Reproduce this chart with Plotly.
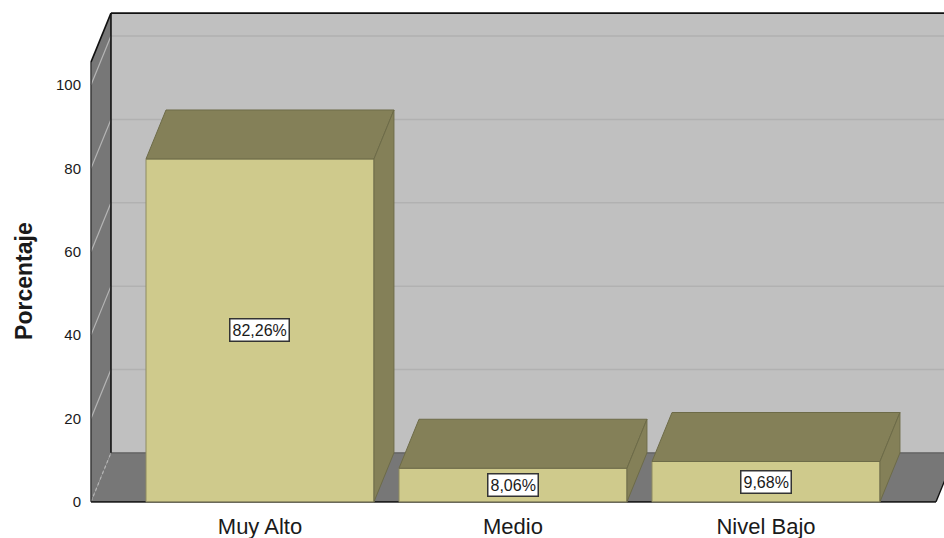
"""SPSS-style 3D bar chart of percentages, drawn with Plotly on plain 2D axes."""

import plotly.graph_objects as go

CATEGORIAS = ["Muy Alto", "Medio", "Nivel Bajo"]
PORCENTAJES = [82.26, 8.06, 9.68]
Y_TICKS = [0, 20, 40, 60, 80, 100]

# Chart geometry in axis units
BAR_WIDTH = 0.901
DEPTH_X = 0.079
DEPTH_Y = 11.75
WALL_X = -0.668
FLOOR_END = 2.672
WALL_TOP = 105.5
X_RANGE = [-0.6798, 2.7036]
Y_RANGE = [-1, 118]

COLORS = {
    "wall": "#c0c0c0",
    "side": "#777777",
    "grid": "#b1b1b1",
    "grid_side": "#b5b5b5",
    "front": "#cfca8c",
    "top": "#848058",
    "right": "#848058",
    "edge": "#6d6b48",
    "text": "#1a1a1a",
}


def polygon(xs, ys, fill, line=None, width=0):
    return {
        "type": "path",
        "path": "M" + "L".join(f"{x},{y}" for x, y in zip(xs, ys)) + "Z",
        "xref": "x",
        "yref": "y",
        "fillcolor": fill,
        "line": {"color": line or fill, "width": width},
        "layer": "below",
    }


def segment(x0, y0, x1, y1, color, width=1, dash="solid"):
    return {
        "type": "line",
        "xref": "x",
        "yref": "y",
        "x0": x0,
        "y0": y0,
        "x1": x1,
        "y1": y1,
        "line": {"color": color, "width": width, "dash": dash},
        "layer": "below",
    }


def wall_shapes():
    back_x = WALL_X + DEPTH_X
    right = X_RANGE[1] + 0.2
    shapes = [
        polygon([back_x, right, right, back_x], [DEPTH_Y, DEPTH_Y, WALL_TOP + DEPTH_Y, WALL_TOP + DEPTH_Y], COLORS["wall"]),
        polygon([WALL_X, back_x, back_x, WALL_X], [0, DEPTH_Y, WALL_TOP + DEPTH_Y, WALL_TOP], COLORS["side"]),
        polygon([WALL_X, back_x, FLOOR_END + DEPTH_X, FLOOR_END], [0, DEPTH_Y, DEPTH_Y, 0], COLORS["side"]),
    ]
    for tick in Y_TICKS[1:]:
        shapes.append(segment(back_x, tick + DEPTH_Y, right, tick + DEPTH_Y, COLORS["grid"], 1.5))
        shapes.append(segment(WALL_X, tick, back_x, tick + DEPTH_Y, COLORS["grid_side"], 1.2))
    shapes += [
        segment(WALL_X, 0, back_x, DEPTH_Y, COLORS["grid_side"], 1.2, "dot"),
        segment(back_x, DEPTH_Y, right, DEPTH_Y, "#5e5e5e", 1.2),
        segment(back_x, DEPTH_Y, back_x, WALL_TOP + DEPTH_Y, "#111111", 1.6),
        segment(back_x, WALL_TOP + DEPTH_Y, right, WALL_TOP + DEPTH_Y, "#111111", 1.6),
        segment(WALL_X, WALL_TOP, back_x, WALL_TOP + DEPTH_Y, "#111111", 1.6),
        segment(WALL_X, 0, WALL_X, WALL_TOP, "#333333", 1.4),
        segment(WALL_X, 0, FLOOR_END, 0, "#222222", 1.6),
        segment(FLOOR_END, 0, FLOOR_END + DEPTH_X, DEPTH_Y, "#111111", 1.4),
    ]
    return shapes


def add_bar_faces(fig):
    half = BAR_WIDTH / 2
    for i, value in enumerate(PORCENTAJES):
        x0, x1 = i - half, i + half
        fig.add_trace(
            go.Scatter(
                x=[x0, x1, x1 + DEPTH_X, x0 + DEPTH_X, x0],
                y=[value, value, value + DEPTH_Y, value + DEPTH_Y, value],
                mode="lines",
                fill="toself",
                fillcolor=COLORS["top"],
                line={"color": COLORS["edge"], "width": 1},
                hoverinfo="skip",
            )
        )
        fig.add_trace(
            go.Scatter(
                x=[x1, x1 + DEPTH_X, x1 + DEPTH_X, x1, x1],
                y=[0, DEPTH_Y, value + DEPTH_Y, value, 0],
                mode="lines",
                fill="toself",
                fillcolor=COLORS["right"],
                line={"color": COLORS["edge"], "width": 1},
                hoverinfo="skip",
            )
        )


fig = go.Figure()
fig.add_trace(
    go.Bar(
        x=list(range(len(CATEGORIAS))),
        y=PORCENTAJES,
        width=BAR_WIDTH,
        marker={"color": COLORS["front"], "line": {"color": "#8e8b63", "width": 1}},
        hovertemplate="%{y:.2f}%<extra></extra>",
    )
)
add_bar_faces(fig)

for i, value in enumerate(PORCENTAJES):
    fig.add_annotation(
        x=i,
        y=value / 2,
        text=f"{value:.2f}".replace(".", ",") + "%",
        showarrow=False,
        font={"family": "Liberation Sans", "size": 16, "color": COLORS["text"]},
        bgcolor="#ffffff",
        bordercolor="#333333",
        borderwidth=1.5,
        borderpad=2,
    )

# Axis title sits off-centre in the reference, so it is placed by hand
fig.add_annotation(
    xref="paper",
    x=-0.0748,
    xanchor="center",
    y=53,
    text="<b>Porcentaje</b>",
    textangle=-90,
    showarrow=False,
    font={"family": "Liberation Sans", "size": 23, "color": COLORS["text"]},
)

fig.update_layout(
    width=944,
    height=538,
    margin={"l": 88, "r": 0, "t": 10, "b": 31.83, "pad": 0, "autoexpand": False},
    paper_bgcolor="#ffffff",
    plot_bgcolor="#ffffff",
    showlegend=False,
    shapes=wall_shapes(),
    font={"family": "Liberation Sans", "color": COLORS["text"]},
)
fig.update_xaxes(
    range=X_RANGE,
    tickvals=list(range(len(CATEGORIAS))),
    ticktext=CATEGORIAS,
    tickfont={"size": 22},
    ticks="outside",
    ticklen=1,
    tickcolor="rgba(0,0,0,0)",
    showgrid=False,
    zeroline=False,
    showline=False,
)
fig.update_yaxes(
    range=Y_RANGE,
    tickvals=Y_TICKS,
    tickfont={"size": 15},
    ticks="outside",
    ticklen=3,
    tickcolor="rgba(0,0,0,0)",
    showgrid=False,
    zeroline=False,
    showline=False,
)

fig.write_html(
    "out.html",
    config={"displayModeBar": False},
    post_script="document.body.style.margin='0';",
)
